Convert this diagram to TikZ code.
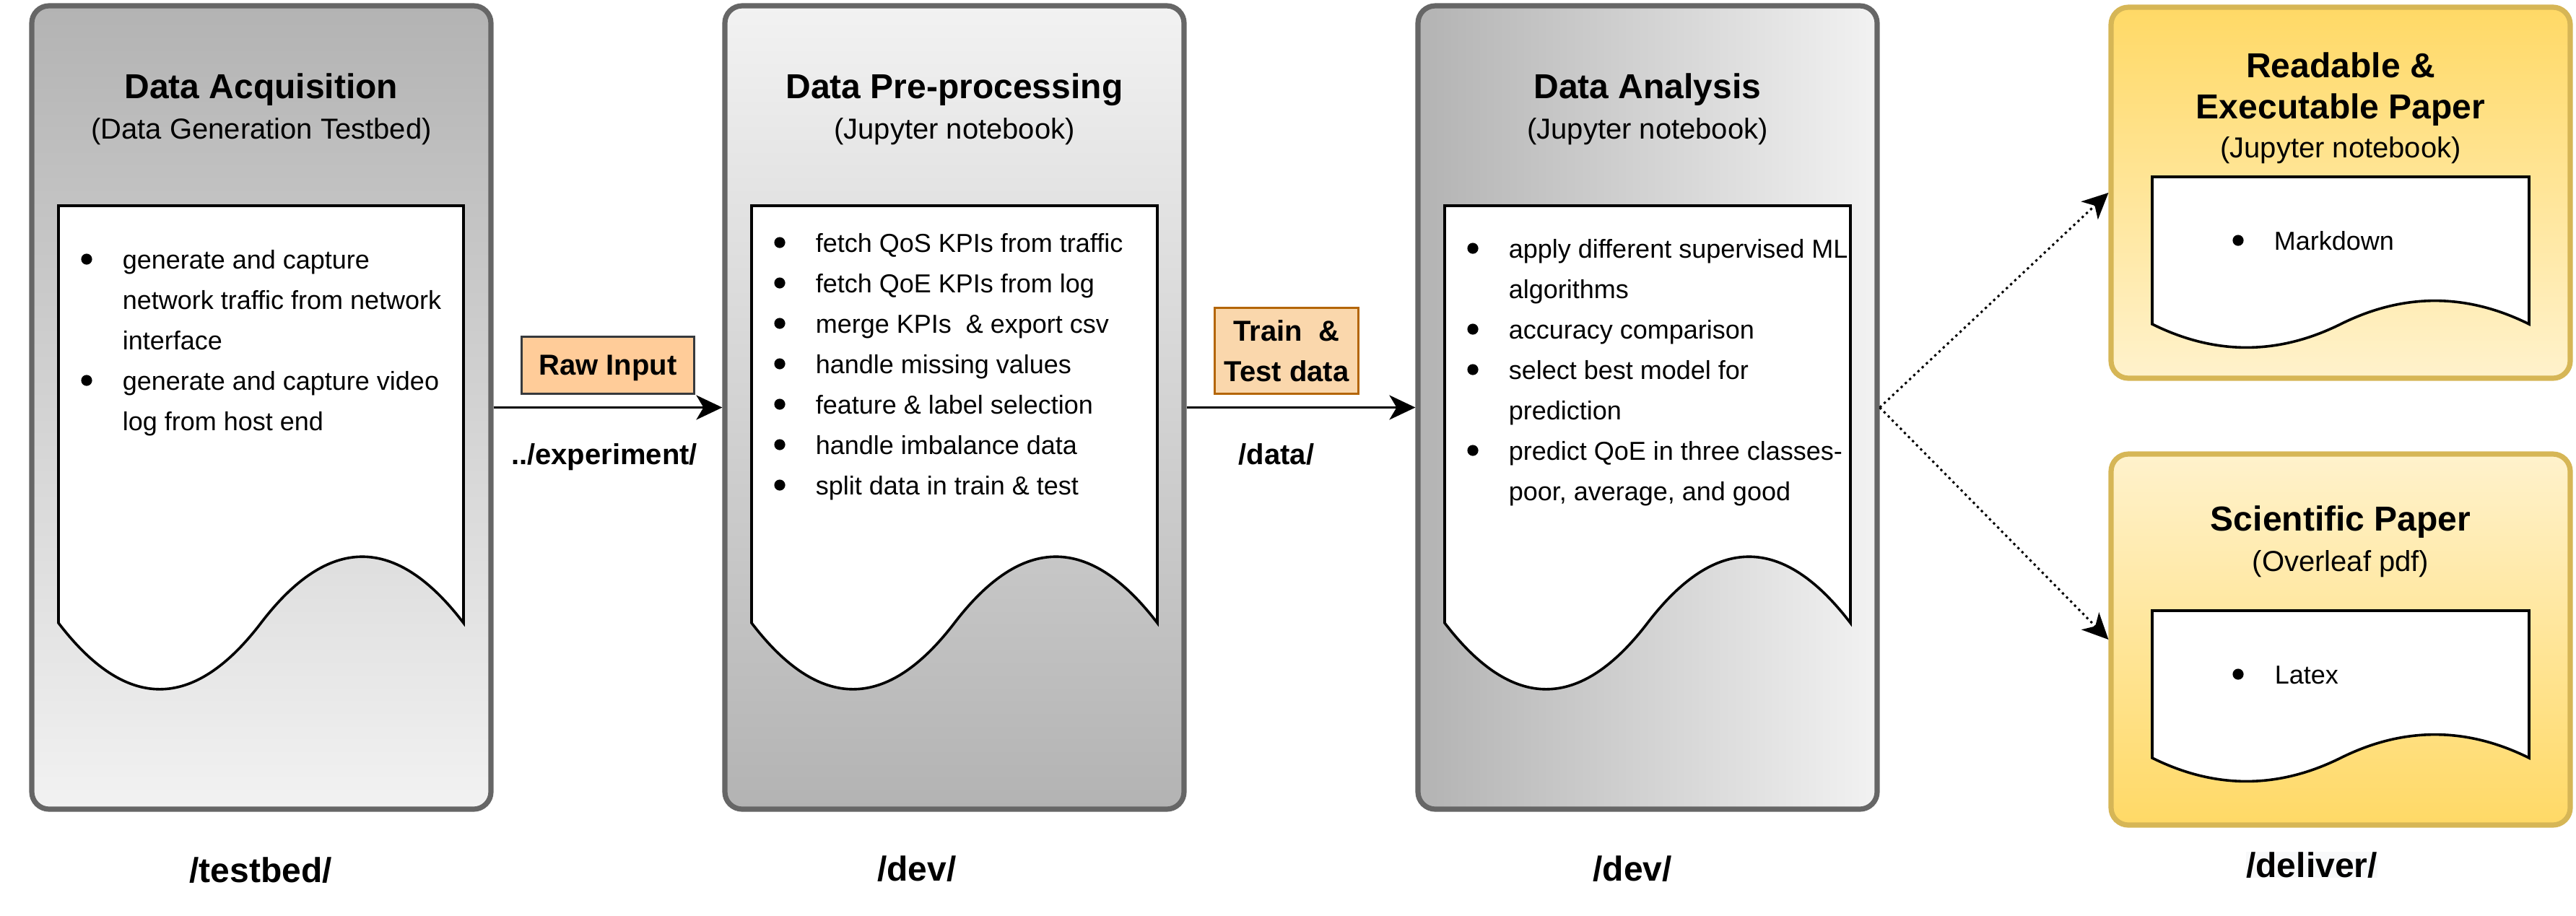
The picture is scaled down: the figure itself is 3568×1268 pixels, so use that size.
\documentclass[tikz,border=0pt]{standalone}
\usepackage{fontspec}
\setmainfont{Liberation Sans}
\usetikzlibrary{arrows.meta}

\definecolor{stagegray}{HTML}{B3B3B3}
\definecolor{stagelight}{HTML}{F2F2F2}
\definecolor{stageline}{HTML}{666666}
\definecolor{paperyellow}{HTML}{FFD966}
\definecolor{paperlight}{HTML}{FFF2CC}
\definecolor{paperline}{HTML}{D6B656}
\definecolor{rawfill}{HTML}{FFCC99}
\definecolor{rawline}{HTML}{36393D}
\definecolor{splitfill}{HTML}{FAD7AC}
\definecolor{splitline}{HTML}{B46504}
\definecolor{dirfill}{HTML}{F8F9FA}

\tikzset{
  stage/.style={draw=stageline, line width=1.8pt, rounded corners=6pt,
    minimum width=159pt, minimum height=278.25pt, inner sep=0pt},
  deliverable/.style={draw=paperline, line width=1.8pt, rounded corners=6pt,
    minimum width=159pt, minimum height=128.5pt, inner sep=0pt},
  docline/.style={draw=black, fill=white, line width=0.9pt},
  headline/.style={anchor=base, inner sep=0pt, font=\bfseries\fontsize{12}{14}\selectfont},
  subline/.style={anchor=base, inner sep=0pt, font=\fontsize{10}{12}\selectfont},
  itemline/.style={anchor=base west, inner sep=0pt, font=\fontsize{9}{11}\selectfont},
  bulletdot/.style={circle, fill=black, inner sep=0pt, minimum size=3.8pt},
  folder/.style={anchor=base, inner sep=0pt, font=\bfseries\fontsize{12}{14}\selectfont},
  arrowdir/.style={anchor=base, inner sep=0pt, font=\bfseries\fontsize{10}{12}\selectfont},
  tag/.style={line width=0.75pt, inner sep=0pt, align=center,
    font=\bfseries\fontsize{10}{14}\selectfont},
  flow/.style={line width=0.75pt, -{Stealth[length=9pt,width=8.5pt,inset=2.5pt]}},
  handoff/.style={flow, dash pattern=on 0.8pt off 1.2pt},
}

% paper sheet with a wavy lower edge: x, y, width, height
\newcommand{\paperdoc}[4]{%
  \draw[docline] (#1,#2) -- ({#1+#3},#2) -- ({#1+#3},{#2+0.85*#4})
    .. controls ({#1+5*#3/6},{#2+0.67*#4}) and ({#1+2*#3/3},{#2+0.67*#4}) .. ({#1+#3/2},{#2+0.85*#4})
    .. controls ({#1+#3/3},{#2+1.03*#4}) and ({#1+#3/6},{#2+1.03*#4}) .. (#1,{#2+0.85*#4}) -- cycle;}

\begin{document}
\begin{tikzpicture}[x=0.25pt,y=-0.25pt]
  \useasboundingbox (0,0) rectangle (3568,1268);

  % stages
  \node[stage, top color=stagegray, bottom color=stagelight] (acq) at (362,564.5) {};
  \node[stage, top color=stagelight, bottom color=stagegray] (prep) at (1322,564.5) {};
  \node[stage, left color=stagegray, right color=stagelight] (anal) at (2282,564.5) {};
  \node[deliverable, top color=paperyellow, bottom color=paperlight] (nb) at (3242,267) {};
  \node[deliverable, top color=paperlight, bottom color=paperyellow] (paper) at (3242,886) {};

  \paperdoc{81}{285}{561}{680}
  \paperdoc{1041}{285}{562}{680}
  \paperdoc{2001}{285}{562}{680}
  \paperdoc{2981}{245}{522}{240}
  \paperdoc{2981}{846}{522}{240}

  % titles
  \node[headline] (acqtitle) at (362,136) {Data Acquisition};
  \node[subline] (acqsub) at (362,192) {(Data Generation Testbed)};
  \node[headline] (preptitle) at (1322,136) {Data Pre-processing};
  \node[subline] (prepsub) at (1322,192) {(Jupyter notebook)};
  \node[headline] (analtitle) at (2282,136) {Data Analysis};
  \node[subline] (analsub) at (2282,192) {(Jupyter notebook)};
  \node[headline] (nbtitle) at (3242,107) {Readable \&};
  \node[headline] (nbtitle2) at (3242,164) {Executable Paper};
  \node[subline] (nbsub) at (3242,218) {(Jupyter notebook)};
  \node[headline] (papertitle) at (3242,735) {Scientific Paper};
  \node[subline] (papersub) at (3242,791) {(Overleaf pdf)};

  % acquisition items
  \node[bulletdot] (acqb1) at (120,359) {};
  \node[itemline] (acqi1) at (169,372) {generate and capture};
  \node[itemline] (acqi2) at (169,428) {network traffic from network};
  \node[itemline] (acqi3) at (169,484) {interface};
  \node[bulletdot] (acqb2) at (120,527) {};
  \node[itemline] (acqi4) at (169,540) {generate and capture video};
  \node[itemline] (acqi5) at (169,596) {log from host end};

  % pre-processing items
  \node[bulletdot] (prepb1) at (1080,336) {};
  \node[itemline] (prepi1) at (1129,349) {fetch QoS KPIs from traffic};
  \node[bulletdot] (prepb2) at (1080,392) {};
  \node[itemline] (prepi2) at (1129,405) {fetch QoE KPIs from log};
  \node[bulletdot] (prepb3) at (1080,448) {};
  \node[itemline] (prepi3) at (1129,461) {merge KPIs\ \ \& export csv};
  \node[bulletdot] (prepb4) at (1080,504) {};
  \node[itemline] (prepi4) at (1129,517) {handle missing values};
  \node[bulletdot] (prepb5) at (1080,560) {};
  \node[itemline] (prepi5) at (1129,573) {feature \& label selection};
  \node[bulletdot] (prepb6) at (1080,616) {};
  \node[itemline] (prepi6) at (1129,629) {handle imbalance data};
  \node[bulletdot] (prepb7) at (1080,672) {};
  \node[itemline] (prepi7) at (1129,685) {split data in train \& test};

  % analysis items
  \node[bulletdot] (analb1) at (2040,344) {};
  \node[itemline] (anali1) at (2089,357) {apply different supervised ML};
  \node[itemline] (anali2) at (2089,413) {algorithms};
  \node[bulletdot] (analb2) at (2040,456) {};
  \node[itemline] (anali3) at (2089,469) {accuracy comparison};
  \node[bulletdot] (analb3) at (2040,512) {};
  \node[itemline] (anali4) at (2089,525) {select best model for};
  \node[itemline] (anali5) at (2089,581) {prediction};
  \node[bulletdot] (analb4) at (2040,624) {};
  \node[itemline] (anali6) at (2089,637) {predict QoE in three classes-};
  \node[itemline] (anali7) at (2089,693) {poor, average, and good};

  % deliverable items
  \node[bulletdot] (nbb1) at (3100,333) {};
  \node[itemline] (nbi1) at (3149,346) {Markdown};
  \node[bulletdot] (paperb1) at (3100,934) {};
  \node[itemline] (paperi1) at (3150,947) {Latex};

  % data handed between stages
  \node[tag, draw=rawline, fill=rawfill, minimum width=59.75pt, minimum height=19.75pt,
    text depth=0pt] (raw) at (842,506) {Raw Input};
  \node[tag, draw=splitline, fill=splitfill, minimum width=49.75pt,
    minimum height=29.75pt] (split) at (1782,486) {Train\ \ \&\\Test data};
  \node[arrowdir] (rawdir) at (837,643) {../experiment/};
  \node[arrowdir] (splitdir) at (1768,643) {/data/};

  \draw[flow] (acq) -- (prep);
  \draw[flow] (prep) -- (anal);
  \draw[handoff] (anal.east) -- (nb.west);
  \draw[handoff] (anal.east) -- (paper.west);

  % folders
  \node[folder] (acqdir) at (361,1222) {/testbed/};
  \node[folder] (prepdir) at (1270,1220) {/dev/};
  \node[folder] (analdir) at (2261,1220) {/dev/};
  \node[folder, fill=dirfill] (nbdir) at (3202,1215) {/deliver/};
\end{tikzpicture}
\end{document}
